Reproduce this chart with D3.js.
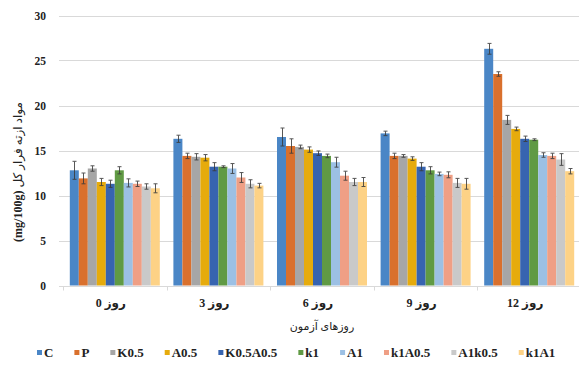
<!DOCTYPE html>
<html>
<head>
<meta charset="utf-8">
<script src="https://cdn.jsdelivr.net/npm/d3@7"></script>
<style>
  html, body { margin: 0; padding: 0; background: #fff; }
  svg { display: block; }
  .serif { font-family: "Liberation Serif", "DejaVu Sans", serif; }
</style>
</head>
<body>
<svg id="chart" width="579" height="365"></svg>
<script>
// Test days (category groups)
const days = ["روز 0", "روز 3", "روز 6", "روز 9", "روز 12"];
// Treatments (series)
const treatments = ["C", "P", "K0.5", "A0.5", "K0.5A0.5", "k1", "A1", "k1A0.5", "A1k0.5", "k1A1"];
const colors = ["#4a86c6", "#d9702d", "#a6a6a6", "#e6ab0c", "#3764b0", "#609a44", "#9cc0e4", "#ef9f85", "#c9c9c9", "#fdd286"];

// Mean values per treatment, one entry per day
const C        = [12.8, 16.3, 16.5, 16.9, 26.3];
const P        = [11.9, 14.4, 15.5, 14.4, 23.5];
const K05      = [13.0, 14.3, 15.4, 14.4, 18.4];
const A05      = [11.5, 14.2, 15.1, 14.1, 17.4];
const K05A05   = [11.3, 13.2, 14.7, 13.2, 16.3];
const k1       = [12.8, 13.2, 14.4, 12.8, 16.2];
const A1       = [11.4, 13.0, 13.7, 12.4, 14.5];
const k1A05    = [11.3, 12.0, 12.2, 12.3, 14.4];
const A1k05    = [11.0, 11.3, 11.5, 11.4, 14.0];
const k1A1     = [10.8, 11.1, 11.5, 11.3, 12.7];

// Standard errors per treatment, one entry per day
const C_err      = [1.0, 0.4, 1.0, 0.25, 0.6];
const P_err      = [0.6, 0.3, 0.8, 0.3, 0.25];
const K05_err    = [0.3, 0.35, 0.2, 0.15, 0.5];
const A05_err    = [0.4, 0.35, 0.3, 0.2, 0.2];
const K05A05_err = [0.4, 0.45, 0.25, 0.45, 0.3];
const k1_err     = [0.4, 0.1, 0.2, 0.4, 0.1];
const A1_err     = [0.45, 0.55, 0.55, 0.2, 0.25];
const k1A05_err  = [0.3, 0.55, 0.5, 0.33, 0.3];
const A1k05_err  = [0.3, 0.45, 0.4, 0.5, 0.65];
const k1A1_err   = [0.5, 0.25, 0.5, 0.6, 0.3];

const yTicks = [0, 5, 10, 15, 20, 25, 30];

const means  = [C, P, K05, A05, K05A05, k1, A1, k1A05, A1k05, k1A1];
const errors = [C_err, P_err, K05_err, A05_err, K05A05_err, k1_err, A1_err, k1A05_err, A1k05_err, k1A1_err];

const svg = d3.select("#chart");

const plot = { left: 63, right: 581, top: 15.5, bottom: 285.5 };

const x0 = d3.scaleBand().domain(days).range([plot.left, plot.right]).padding(0);
const groupPad = (x0.bandwidth() - 90) / 2;
const x1 = d3.scaleBand().domain(treatments).range([groupPad, x0.bandwidth() - groupPad]).padding(0);
const y = d3.scaleLinear().domain([0, 30]).range([plot.bottom, plot.top]);

// Horizontal gridlines
svg.append("g")
  .selectAll("line")
  .data(yTicks.filter(t => t > 0))
  .join("line")
  .attr("x1", 59).attr("x2", plot.right)
  .attr("y1", d => Math.round(y(d)) + 0.5).attr("y2", d => Math.round(y(d)) + 0.5)
  .attr("stroke", "#d9d9d9").attr("stroke-width", 1);

// Y tick labels
svg.append("g")
  .selectAll("text")
  .data(yTicks)
  .join("text")
  .attr("class", "serif")
  .attr("x", 46).attr("y", d => y(d))
  .attr("dy", "0.35em")
  .attr("text-anchor", "end")
  .attr("font-size", 11.5).attr("font-weight", "bold")
  .attr("fill", "#222")
  .text(d => d);

// Bars
const rows = [];
days.forEach((day, di) => {
  treatments.forEach((t, ti) => {
    rows.push({ day, t, ti, v: means[ti][di], e: errors[ti][di] });
  });
});

svg.append("g")
  .selectAll("rect")
  .data(rows)
  .join("rect")
  .attr("x", d => x0(d.day) + x1(d.t))
  .attr("y", d => y(d.v))
  .attr("width", x1.bandwidth())
  .attr("height", d => y(0) - y(d.v))
  .attr("fill", d => colors[d.ti]);

// Error bars
const eb = svg.append("g").attr("stroke", "#3a3a3a").attr("stroke-width", 1).attr("opacity", 0.85);
rows.forEach(d => {
  const cx = Math.round(x0(d.day) + x1(d.t) + x1.bandwidth() / 2) + 0.5;
  const yTop = y(d.v + d.e), yBot = y(d.v - d.e);
  eb.append("line").attr("x1", cx).attr("x2", cx).attr("y1", yTop).attr("y2", yBot);
  eb.append("line").attr("x1", cx - 2).attr("x2", cx + 2).attr("y1", yTop).attr("y2", yTop);
  eb.append("line").attr("x1", cx - 2).attr("x2", cx + 2).attr("y1", yBot).attr("y2", yBot);
});

// Baseline and category separators
svg.append("line")
  .attr("x1", 59).attr("x2", plot.right)
  .attr("y1", Math.round(y(0)) + 0.5).attr("y2", Math.round(y(0)) + 0.5)
  .attr("stroke", "#d9d9d9");
svg.append("g")
  .selectAll("line")
  .data(days)
  .join("line")
  .attr("x1", d => Math.round(x0(d)) + 0.5).attr("x2", d => Math.round(x0(d)) + 0.5)
  .attr("y1", Math.round(y(0)) + 0.5).attr("y2", Math.round(y(0)) + 4.5)
  .attr("stroke", "#d9d9d9");

// Category labels
svg.append("g")
  .selectAll("text")
  .data(days)
  .join("text")
  .attr("class", "serif")
  .attr("x", d => x0(d) + x0.bandwidth() / 2 - 4)
  .attr("y", 307)
  .attr("direction", "rtl")
  .attr("text-anchor", "middle")
  .attr("font-size", 12).attr("font-weight", "bold")
  .attr("fill", "#222")
  .text(d => d);

// X axis title
svg.append("text")
  .attr("class", "serif")
  .attr("x", (plot.left + plot.right) / 2)
  .attr("y", 330)
  .attr("direction", "rtl")
  .attr("text-anchor", "middle")
  .attr("font-size", 11)
  .attr("fill", "#222")
  .text("روزهای آزمون");

// Y axis title
const yTitle = svg.append("text")
  .attr("class", "serif")
  .attr("transform", "translate(22,172) rotate(-90)")
  .attr("text-anchor", "middle")
  .attr("fill", "#222");
yTitle.append("tspan").attr("font-size", 12).attr("font-weight", "bold").text("(mg/100g) ");
yTitle.append("tspan").attr("font-size", 12).text("مواد ازته فرار کل");

// Legend
const legend = svg.append("g");
let lx = 37;
treatments.forEach((t, i) => {
  legend.append("rect")
    .attr("x", lx).attr("y", 350).attr("width", 5).attr("height", 5)
    .attr("fill", colors[i]);
  const txt = legend.append("text")
    .attr("class", "serif")
    .attr("x", lx + 7).attr("y", 356.5)
    .attr("font-size", 13).attr("font-weight", "bold")
    .attr("fill", "#222")
    .text(t);
  lx += 7 + txt.node().getComputedTextLength() + 21;
});
</script>
</body>
</html>
